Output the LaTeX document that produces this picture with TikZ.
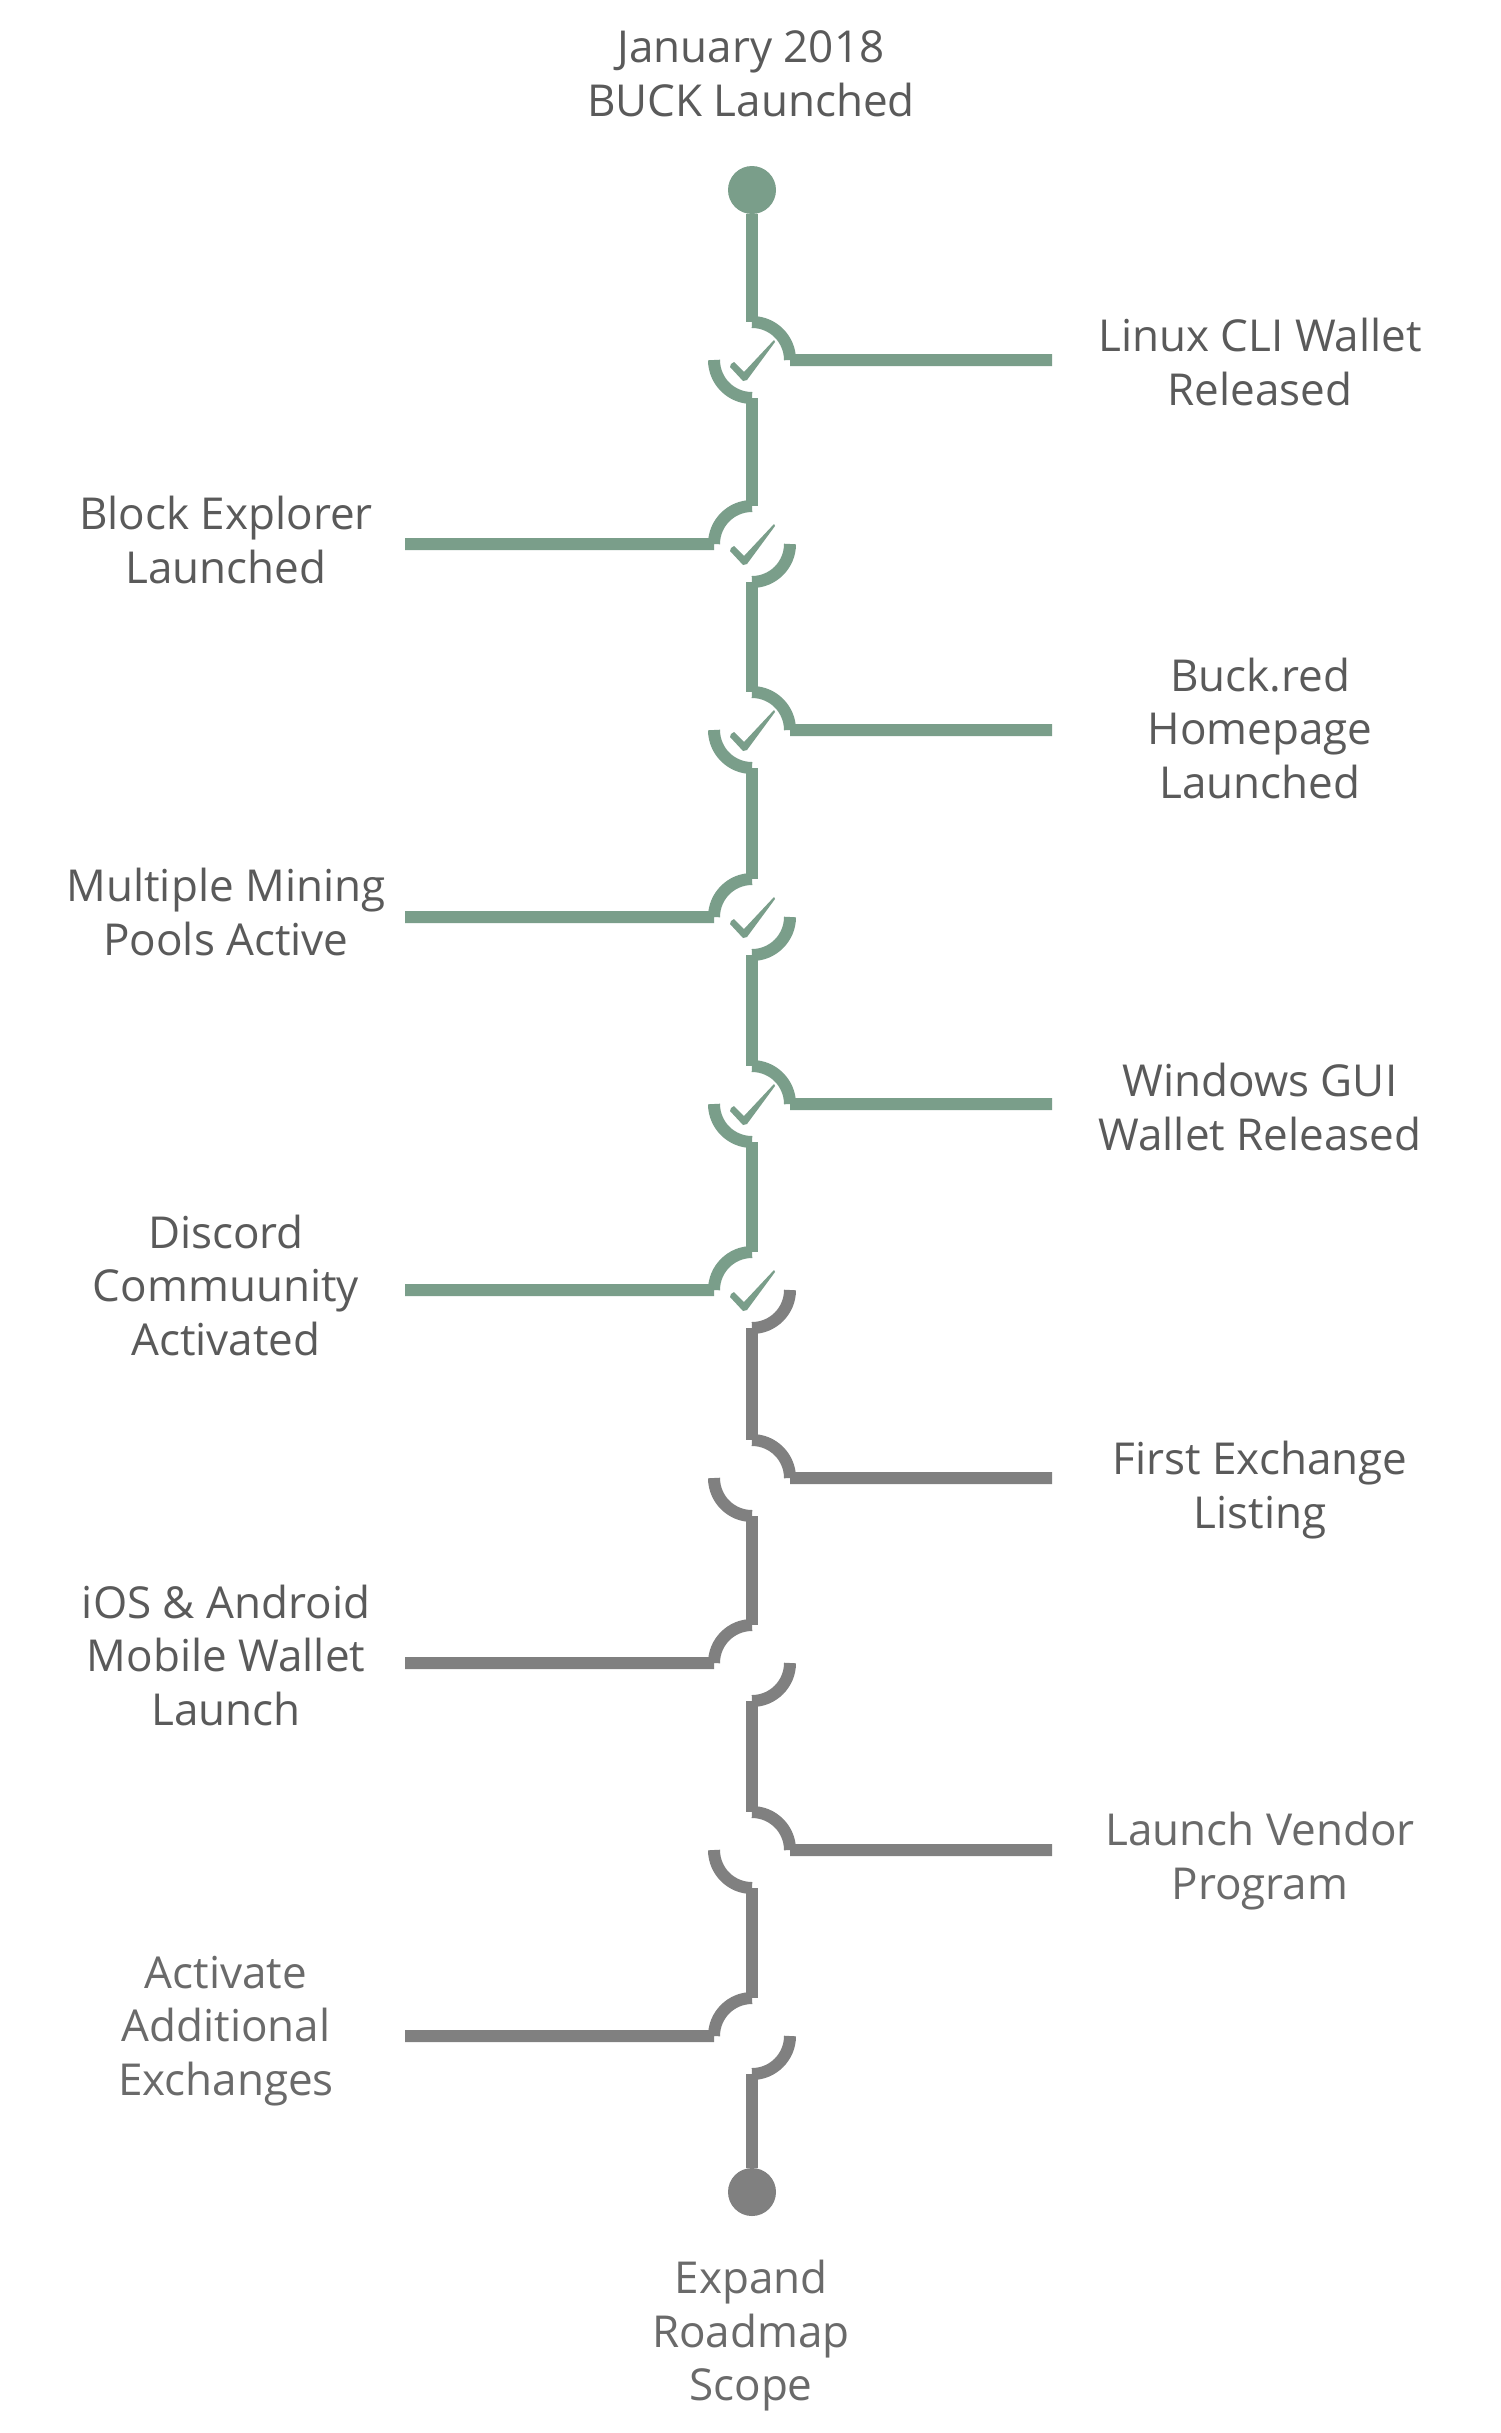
\documentclass[tikz,border=0pt]{standalone}
\usepackage{fontspec}
\setmainfont{Open Sans}
\definecolor{leaf}{HTML}{7A9E8A}
\definecolor{ash}{HTML}{808080}
\definecolor{ink}{HTML}{5A5A5A}
\definecolor{inklight}{HTML}{6A6A6A}

\begin{document}
\begin{tikzpicture}[x=1pt, y=-1pt,
		mile/.style={circle, minimum size=76pt, inner sep=0pt, outer sep=0pt},
		dot/.style={circle, minimum size=48pt, inner sep=0pt, fill=#1},
		lbl/.style={align=center, inner sep=0pt, text=ink, font=\fontsize{44}{53.5}\selectfont},
		past/.style={draw=leaf, line width=12pt},
		later/.style={draw=ash, line width=12pt},
		tick/.pic={\fill[leaf] (-21,4) -- (-18,2) -- (-8,12) -- (22,-20) -- (23,-18) -- (-5,20) -- (-9,21) -- (-22,7) -- cycle;}]
		\fill[white] (0,0) rectangle (1500,2433);
		\useasboundingbox (0,0) rectangle (1500,2433);
		
		\node[dot=leaf] (start) at (752,190) {};
		\node[mile] (m0) at (752,360) {};
		\node[mile] (m1) at (752,544) {};
		\node[mile] (m2) at (752,730) {};
		\node[mile] (m3) at (752,917) {};
		\node[mile] (m4) at (752,1104) {};
		\node[mile] (m5) at (752,1290) {};
		\node[mile] (m6) at (752,1478) {};
		\node[mile] (m7) at (752,1663) {};
		\node[mile] (m8) at (752,1850) {};
		\node[mile] (m9) at (752,2036) {};
		\node[dot=ash] (finish) at (752,2192) {};
		
		\coordinate (e0) at (1052,360);
		\coordinate (e1) at (405,544);
		\coordinate (e2) at (1052,730);
		\coordinate (e3) at (405,917);
		\coordinate (e4) at (1052,1104);
		\coordinate (e5) at (405,1290);
		\coordinate (e6) at (1052,1478);
		\coordinate (e7) at (405,1663);
		\coordinate (e8) at (1052,1850);
		\coordinate (e9) at (405,2036);
		
		\node[lbl] (top) at (751,74) {January 2018\\BUCK Launched};
		\node[lbl] (t0) at (1260,362) {Linux CLI Wallet\\Released};
		\node[lbl] (t1) at (226,540) {Block Explorer\\Launched};
		\node[lbl] (t2) at (1260,728) {Buck.red\\Homepage\\Launched};
		\node[lbl] (t3) at (226,912) {Multiple Mining\\Pools Active};
		\node[lbl] (t4) at (1260,1107) {Windows GUI\\Wallet Released};
		\node[lbl] (t5) at (226,1285) {Discord\\Commuunity\\Activated};
		\node[lbl] (t6) at (1260,1490) {First Exchange\\Listing};
		\node[lbl] (t7) at (226,1655) {iOS \& Android\\Mobile Wallet\\Launch};
		\node[lbl, text=inklight] (t8) at (1260,1861) {Launch Vendor\\Program};
		\node[lbl, text=inklight] (t9) at (226,2031) {Activate\\Additional\\Exchanges};
		\node[lbl, text=inklight] (bottom) at (751,2336) {Expand\\Roadmap\\Scope};
		
		% done
		\draw[past] (start) -- (m0.north);
		\draw[past] (m0.north) arc[start angle=90, end angle=0, radius=38pt] (m0.east) -- (e0);
		\draw[past] (m0.west) arc[start angle=180, end angle=270, radius=38pt];
		\draw[past] (m0.south) -- (m1.north);
		\draw[past] (m1.north) arc[start angle=90, end angle=180, radius=38pt] (m1.west) -- (e1);
		\draw[past] (m1.east) arc[start angle=0, end angle=-90, radius=38pt];
		\draw[past] (m1.south) -- (m2.north);
		\draw[past] (m2.north) arc[start angle=90, end angle=0, radius=38pt] (m2.east) -- (e2);
		\draw[past] (m2.west) arc[start angle=180, end angle=270, radius=38pt];
		\draw[past] (m2.south) -- (m3.north);
		\draw[past] (m3.north) arc[start angle=90, end angle=180, radius=38pt] (m3.west) -- (e3);
		\draw[past] (m3.east) arc[start angle=0, end angle=-90, radius=38pt];
		\draw[past] (m3.south) -- (m4.north);
		\draw[past] (m4.north) arc[start angle=90, end angle=0, radius=38pt] (m4.east) -- (e4);
		\draw[past] (m4.west) arc[start angle=180, end angle=270, radius=38pt];
		\draw[past] (m4.south) -- (m5.north);
		\draw[past] (m5.north) arc[start angle=90, end angle=180, radius=38pt] (m5.west) -- (e5);
		
		% to do
		\draw[later] (m5.east) arc[start angle=0, end angle=-90, radius=38pt];
		\draw[later] (m5.south) -- (m6.north);
		\draw[later] (m6.north) arc[start angle=90, end angle=0, radius=38pt] (m6.east) -- (e6);
		\draw[later] (m6.west) arc[start angle=180, end angle=270, radius=38pt];
		\draw[later] (m6.south) -- (m7.north);
		\draw[later] (m7.north) arc[start angle=90, end angle=180, radius=38pt] (m7.west) -- (e7);
		\draw[later] (m7.east) arc[start angle=0, end angle=-90, radius=38pt];
		\draw[later] (m7.south) -- (m8.north);
		\draw[later] (m8.north) arc[start angle=90, end angle=0, radius=38pt] (m8.east) -- (e8);
		\draw[later] (m8.west) arc[start angle=180, end angle=270, radius=38pt];
		\draw[later] (m8.south) -- (m9.north);
		\draw[later] (m9.north) arc[start angle=90, end angle=180, radius=38pt] (m9.west) -- (e9);
		\draw[later] (m9.east) arc[start angle=0, end angle=-90, radius=38pt];
		\draw[later] (m9.south) -- (finish);
		
		\pic at (m0) {tick};
		\pic at (m1) {tick};
		\pic at (m2) {tick};
		\pic at (m3) {tick};
		\pic at (m4) {tick};
		\pic at (m5) {tick};
	\end{tikzpicture}
\end{document}
